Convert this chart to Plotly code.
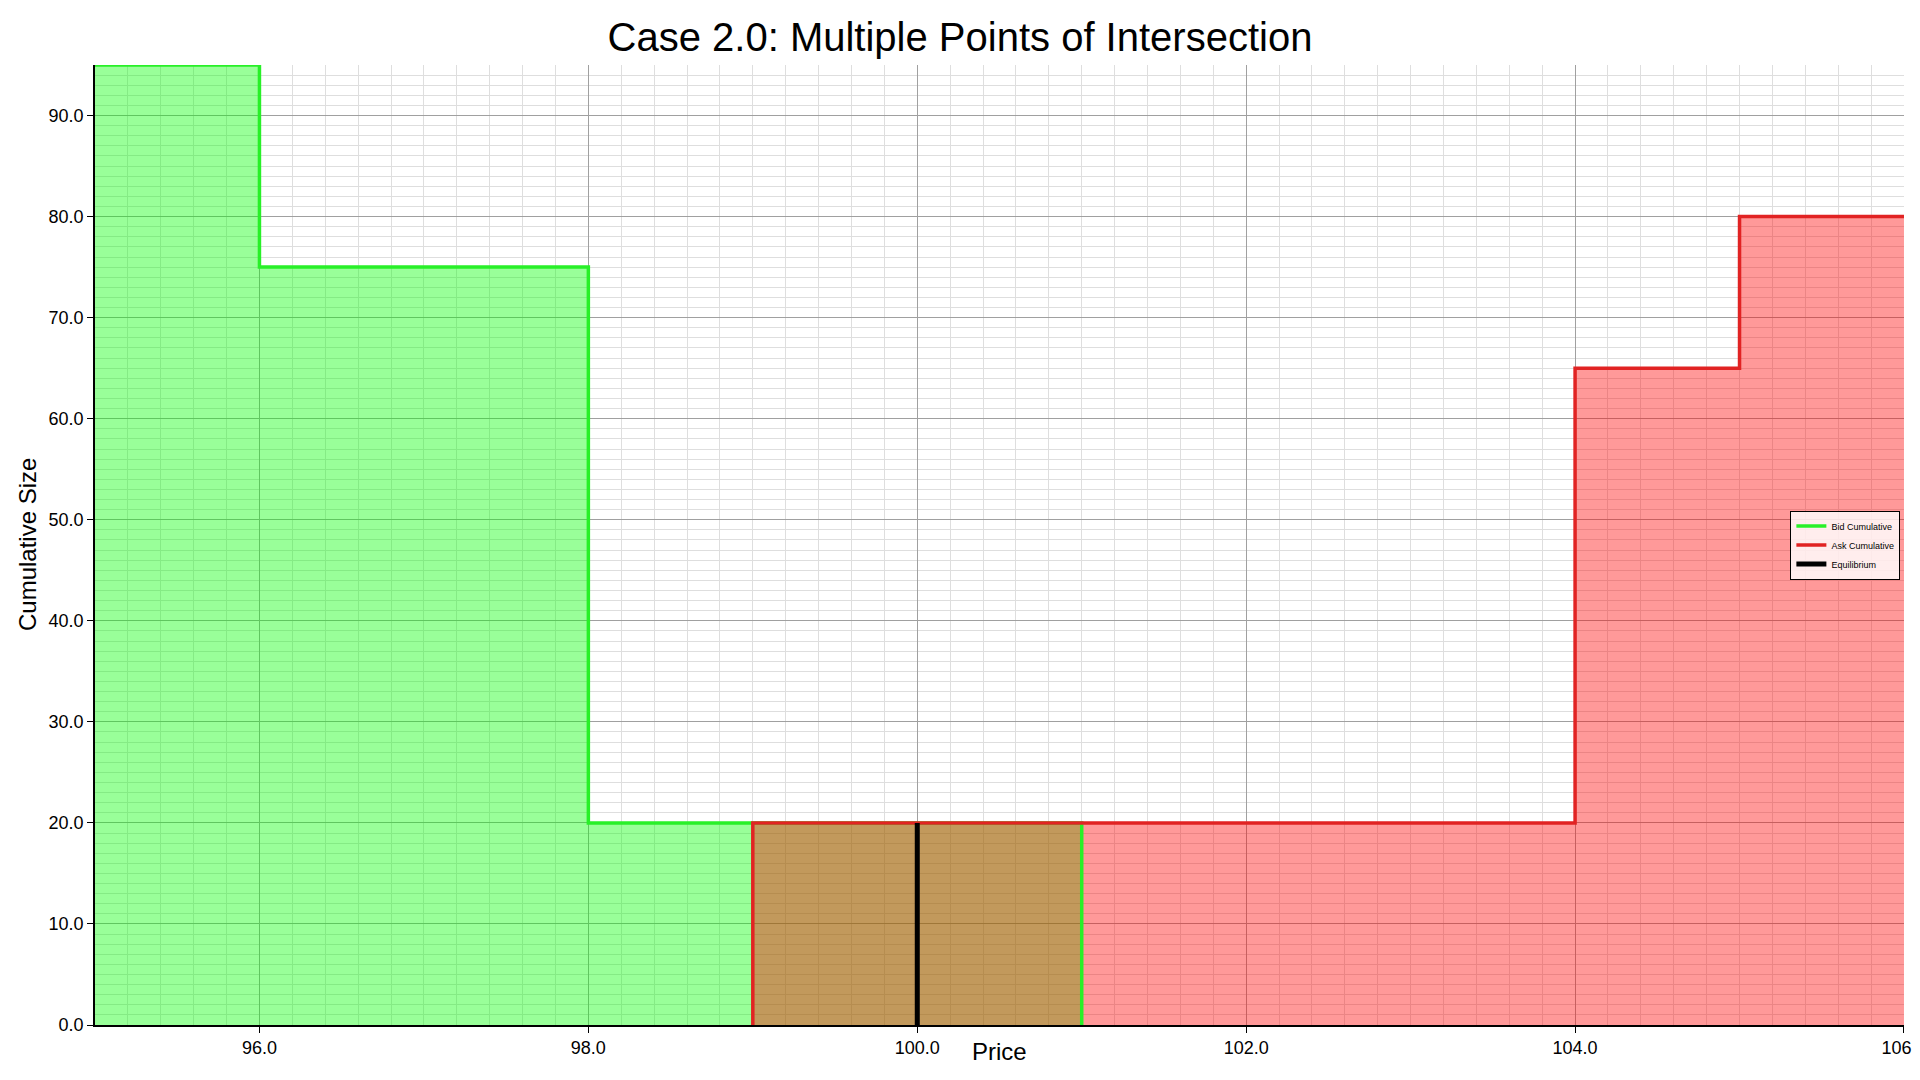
import plotly.graph_objects as go

# cumulative order book (step curves)
bid_prices = [95, 96, 98, 101, 101]
bid_cum = [95, 75, 20, 20, 0]

ask_prices = [99, 99, 104, 105, 106]
ask_cum = [0, 20, 65, 80, 80]

eq_price = 100
eq_size = 20

x_range = [95, 106.0001]
y_range = [0, 95]

FONT = "Liberation Sans, Arial, Helvetica, sans-serif"
BID_LINE = "rgb(40,240,40)"
ASK_LINE = "rgb(225,35,35)"

fig = go.Figure()

# fills first (ask fill over bid fill gives the brown overlap)
fig.add_trace(go.Scatter(
    x=bid_prices, y=bid_cum, mode="lines",
    line=dict(width=0, shape="hv", color=BID_LINE),
    fill="tozeroy", fillcolor="rgba(0,255,0,0.4)",
    showlegend=False, hoverinfo="skip",
))
fig.add_trace(go.Scatter(
    x=ask_prices, y=ask_cum, mode="lines",
    line=dict(width=0, shape="hv", color=ASK_LINE),
    fill="tozeroy", fillcolor="rgba(255,0,0,0.4)",
    showlegend=False, hoverinfo="skip",
))

# step lines on top
fig.add_trace(go.Scatter(
    x=bid_prices, y=bid_cum, mode="lines",
    line=dict(color=BID_LINE, width=3.5, shape="hv"),
    name="Bid Cumulative",
))
fig.add_trace(go.Scatter(
    x=ask_prices, y=ask_cum, mode="lines",
    line=dict(color=ASK_LINE, width=3.5, shape="hv"),
    name="Ask Cumulative",
))
fig.add_trace(go.Scatter(
    x=[eq_price, eq_price], y=[0, eq_size], mode="lines",
    line=dict(color="black", width=5),
    name="Equilibrium",
))

axis_common = dict(
    showline=True, linecolor="black", linewidth=1.5, mirror=False,
    ticks="outside", ticklen=6, tickcolor="black",
    tickformat=".1f", tickfont=dict(size=18, color="black", family=FONT),
    ticklabeloverflow="allow", automargin=False,
    showgrid=True, gridcolor="rgb(160,160,160)", gridwidth=1,
    zeroline=False,
)

# page body has an 8px margin, so the figure is 1904x1064
W, H = 1904, 1064

fig.update_layout(
    width=W, height=H,
    plot_bgcolor="white", paper_bgcolor="white",
    font=dict(family=FONT, color="black"),
    margin=dict(l=87, r=8, t=57, b=47),
    title=dict(
        text="Case 2.0: Multiple Points of Intersection",
        x=0.5, xanchor="center", xref="container",
        y=1 - 29 / H, yanchor="middle", yref="container",
        font=dict(size=40, color="black", family=FONT),
    ),
    xaxis=dict(
        range=x_range, dtick=2, tick0=96,
        minor=dict(dtick=0.2, showgrid=True, gridcolor="rgb(222,222,222)", gridwidth=1),
        **axis_common,
    ),
    yaxis=dict(
        range=y_range, dtick=10, tick0=0,
        minor=dict(dtick=1, showgrid=True, gridcolor="rgb(222,222,222)", gridwidth=1),
        **axis_common,
    ),
    showlegend=True,
    legend=dict(
        x=0.998, xanchor="right", y=0.5, yanchor="middle",
        bgcolor="rgba(255,255,255,0.82)", bordercolor="black", borderwidth=1,
        font=dict(size=9, color="black", family=FONT),
        itemwidth=30,
    ),
    annotations=[
        dict(text="Price", x=0.5, y=(1025 - 1051) / 960, xref="paper", yref="paper",
             xanchor="center", yanchor="middle", showarrow=False,
             font=dict(size=24, color="black", family=FONT)),
        dict(text="Cumulative Size", x=(27 - 95) / 1809, y=0.5, xref="paper", yref="paper",
             xanchor="center", yanchor="middle", textangle=-90, showarrow=False,
             font=dict(size=24, color="black", family=FONT)),
    ],
)

fig.write_html("out.html")
